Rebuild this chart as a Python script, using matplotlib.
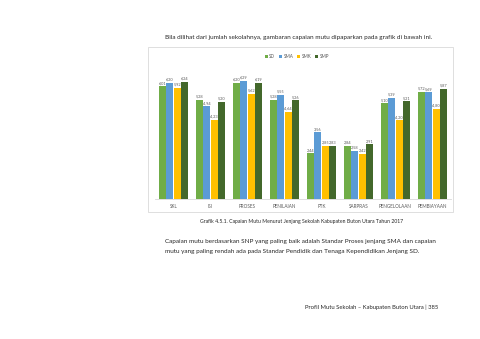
import numpy as np
import matplotlib
matplotlib.use("Agg")
import matplotlib.pyplot as plt
from matplotlib.patches import Rectangle

plt.rcParams['font.family'] = ['Lato', 'DejaVu Sans']

categories = ['SKL', 'ISI', 'PROSES', 'PENILAIAN', 'PTK', 'SARPRAS', 'PENGELOLAAN', 'PEMBIAYAAN']
series = ['SD', 'SMA', 'SMK', 'SMP']
sd = [6.01, 5.28, 6.20, 5.28, 2.44, 2.84, 5.10, 5.72]
sma = [6.20, 4.94, 6.29, 5.55, 3.56, 2.58, 5.39, 5.69]
smk = [5.92, 4.23, 5.62, 4.64, 2.85, 2.42, 4.20, 4.80]
smp = [6.24, 5.20, 6.19, 5.26, 2.83, 2.91, 5.21, 5.87]
colors = ['#70ad47', '#5b9bd5', '#ffc000', '#43682b']

W, H = 480, 339
fig = plt.figure(figsize=(4.8, 3.39), dpi=100)
fig.patch.set_facecolor('white')

def px(x, y):
    return x / W, 1 - y / H

# text of the page around the chart
tc = '#262626'
fig.text(*px(165, 37), 'Bila dilihat dari jumlah sekolahnya, gambaran capaian mutu dipaparkan pada grafik di bawah ini.',
         fontsize=4.6, color=tc, va='center', ha='left')

# chart frame
x0, y0 = px(148, 212)
x1, y1 = px(453, 47)
fig.patches.append(Rectangle((x0, y0), x1 - x0, y1 - y0, transform=fig.transFigure,
                             fill=False, edgecolor='#d9d9d9', lw=0.6))

ax = fig.add_axes([155 / W, (H - 199) / H, 296 / W, 131.25 / H])
x = np.arange(len(categories))
bw = 0.18
step = 0.2
for i, (name, vals) in enumerate(zip(series, [sd, sma, smk, smp])):
    pos = x + (i - 1.5) * step
    ax.bar(pos, vals, width=bw, color=colors[i], label=name)
    for p, v in zip(pos, vals):
        ax.text(p, v + 0.06, f'{v:.2f}'.replace('.', ','), ha='center', va='bottom',
                fontsize=2.8, color='#595959')

ax.set_xlim(-0.5, len(categories) - 0.5)
ax.set_ylim(0, 7)
ax.set_yticks([])
ax.set_xticks(x)
ax.set_xticklabels(categories, fontsize=3.3, color='#595959')
ax.tick_params(axis='x', length=0, pad=3.5)
for s in ['top', 'right', 'left']:
    ax.spines[s].set_visible(False)
ax.spines['bottom'].set_color('#d9d9d9')
ax.spines['bottom'].set_linewidth(0.6)
ax.patch.set_alpha(0)

leg = ax.legend(loc='center', bbox_to_anchor=((297 - 155) / 296, (199 - 57) / 131.25),
                ncol=4, frameon=False, fontsize=3.3, handlelength=0.6, handleheight=0.6,
                handletextpad=0.3, columnspacing=0.9)
for t in leg.get_texts():
    t.set_color('#595959')

fig.text(*px(302, 221), 'Grafik 4.5.1. Capaian Mutu Menurut Jenjang Sekolah Kabupaten Buton Utara Tahun 2017',
         fontsize=3.7, color=tc, va='center', ha='center')
fig.text(*px(165, 242), 'Capaian mutu berdasarkan SNP yang paling baik adalah Standar Proses jenjang SMA dan capaian',
         fontsize=4.6, color=tc, va='center', ha='left')
fig.text(*px(165, 251), 'mutu yang paling rendah ada pada Standar Pendidik dan Tenaga Kependidikan Jenjang SD.',
         fontsize=4.6, color=tc, va='center', ha='left')
fig.text(*px(438, 307), 'Profil Mutu Sekolah \u2013 Kabupaten Buton Utara | 385',
         fontsize=4.2, color=tc, va='center', ha='right')

fig.savefig('out.png', dpi=100, facecolor='white')
